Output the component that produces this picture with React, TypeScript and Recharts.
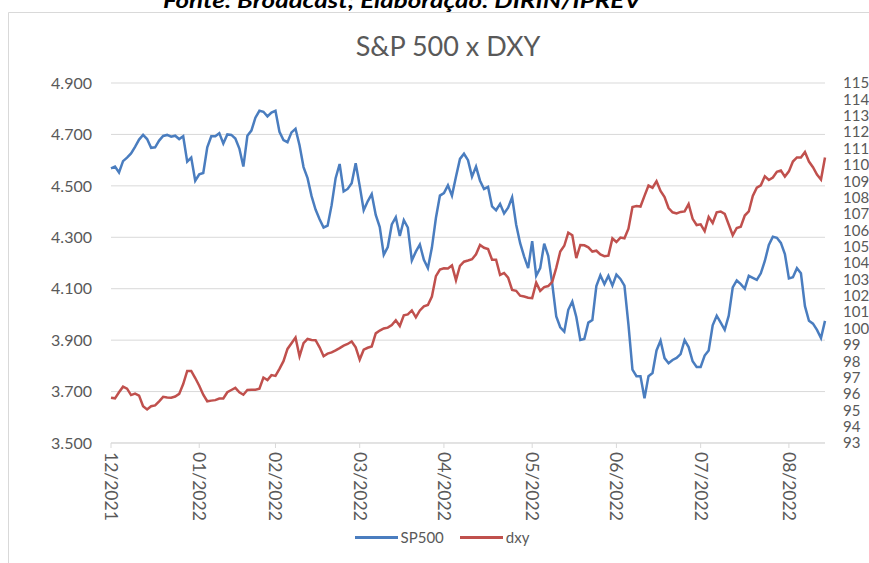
import React from 'react'
import { LineChart, Line, XAxis, YAxis, CartesianGrid, Legend } from 'recharts'

// month labels on the x axis and the trading-day index where each month starts
const monthLabels = ['12/2021', '01/2022', '02/2022', '03/2022', '04/2022', '05/2022', '06/2022', '07/2022', '08/2022']
const monthStarts = [0, 22, 41, 62, 83, 105, 126, 147, 169]

const leftTicks = [3500, 3700, 3900, 4100, 4300, 4500, 4700, 4900]
const rightTicks = [93, 94, 95, 96, 97, 98, 99, 100, 101, 102, 103, 104, 105, 106, 107, 108, 109, 110, 111, 112, 113, 114, 115]

// S&P 500 daily closes
const sp500 = [
  4568, 4575, 4552, 4596, 4610, 4626, 4652, 4680, 4698, 4682,
  4648, 4650, 4676, 4694, 4698, 4691, 4695, 4682, 4693, 4594,
  4610, 4520, 4545, 4550, 4650, 4693, 4693, 4705, 4665, 4700,
  4698, 4684, 4645, 4575, 4695, 4715, 4765, 4792, 4788, 4770,
  4785, 4792, 4710, 4678, 4670, 4708, 4722, 4658, 4573, 4530,
  4460, 4408, 4370, 4338, 4345, 4425, 4530, 4585, 4478, 4488,
  4510, 4588, 4500, 4405, 4440, 4468, 4387, 4340, 4232, 4262,
  4350, 4378, 4305, 4367, 4338, 4210, 4244, 4272, 4212, 4180,
  4260, 4375, 4462, 4472, 4502, 4462, 4535, 4605, 4625, 4600,
  4536, 4575, 4520, 4488, 4496, 4420, 4405, 4430, 4393, 4415,
  4455, 4350, 4277, 4225, 4180, 4285, 4150, 4180, 4275, 4228,
  4120, 3992, 3950, 3933, 4018, 4050, 3990, 3901, 3905, 3968,
  3978, 4110, 4152, 4118, 4150, 4112, 4155, 4138, 4112, 3960,
  3785, 3760, 3760, 3674, 3760, 3772, 3860, 3898, 3830, 3810,
  3823, 3831, 3846, 3900, 3873, 3818, 3796, 3796, 3840, 3860,
  3958, 3995, 3968, 3940, 3995, 4105, 4132, 4118, 4100, 4150,
  4142, 4134, 4160, 4208, 4270, 4302, 4298, 4278, 4235, 4140,
  4145, 4180, 4160, 4032, 3975, 3964, 3940, 3908, 3975,
]

// DXY index (right axis)
const dxy = [
  95.77, 95.73, 96.1, 96.44, 96.32, 95.93, 96.02, 95.9, 95.25, 95.05,
  95.25, 95.3, 95.55, 95.82, 95.78, 95.77, 95.84, 96.0, 96.6, 97.4,
  97.4, 96.97, 96.5, 95.95, 95.55, 95.59, 95.62, 95.72, 95.72, 96.1,
  96.24, 96.37, 96.1, 95.95, 96.24, 96.26, 96.26, 96.32, 97.0, 96.85,
  97.15, 97.1, 97.53, 98.0, 98.75, 99.1, 99.45, 98.3, 99.1, 99.36,
  99.29, 99.28, 98.85, 98.3, 98.46, 98.54, 98.66, 98.8, 98.95, 99.05,
  99.2, 98.85, 98.1, 98.7, 98.82, 98.9, 99.7, 99.87, 100.0, 100.05,
  100.21, 100.5, 100.15, 100.8, 100.86, 101.1, 100.68, 101.1, 101.35, 101.43,
  101.95, 103.2, 103.6, 103.68, 103.67, 103.85, 102.95, 103.83, 104.08, 104.15,
  104.23, 104.53, 105.1, 104.93, 104.85, 104.2, 104.2, 103.27, 103.39, 103.1,
  102.35, 102.3, 102.0, 101.95, 101.88, 101.85, 102.8, 102.3, 102.53, 102.59,
  102.85, 103.7, 104.7, 105.05, 105.85, 105.7, 104.3, 105.1, 105.08, 104.96,
  104.7, 104.75, 104.52, 104.42, 104.45, 105.5, 105.28, 105.55, 105.51, 106.1,
  107.42, 107.48, 107.45, 108.1, 108.73, 108.6, 109.0, 108.4, 108.03, 107.36,
  107.1, 107.03, 107.12, 107.15, 107.6, 106.7, 106.32, 106.36, 105.95, 106.82,
  106.45, 107.1, 107.15, 107.0, 106.35, 105.7, 106.14, 106.22, 106.9, 107.15,
  108.1, 108.6, 108.75, 109.3, 109.07, 109.22, 109.57, 109.65, 109.28, 109.6,
  110.2, 110.45, 110.45, 110.78, 110.2, 109.85, 109.4, 109.1, 110.45,
]

const data = sp500.map((v, i) => ({ i, SP500: v, dxy: dxy[i] }))

const FONT = 'Lato, "Open Sans", sans-serif'
const GRAY = '#595959'
const BLUE = '#4a7dbf'
const RED = '#c0504d'

const fmtThousands = (v: number) => {
  const s = String(v)
  return s.length > 3 ? s.slice(0, -3) + '.' + s.slice(-3) : s
}

function MonthTick(props: any) {
  const { x, y, payload } = props
  const idx = monthStarts.indexOf(payload.value)
  return (
    <text
      x={x}
      y={y}
      dy="0.35em"
      transform={`rotate(90, ${x}, ${y})`}
      textAnchor="start"
      fill={GRAY}
      fontSize={17.5}
      fontFamily={FONT}
    >
      {idx >= 0 ? monthLabels[idx] : ''}
    </text>
  )
}

function LegendContent() {
  const items = [
    { name: 'SP500', color: BLUE },
    { name: 'dxy', color: RED },
  ]
  return (
    <div style={{ display: 'flex', justifyContent: 'center', alignItems: 'center', height: 20, marginLeft: 31, fontFamily: FONT, fontSize: 15, color: GRAY }}>
      {items.map((it) => (
        <div key={it.name} style={{ display: 'flex', alignItems: 'center', marginRight: 16 }}>
          <span style={{ display: 'inline-block', width: 43, height: 3, background: it.color, marginRight: 3 }} />
          <span>{it.name}</span>
        </div>
      ))}
    </div>
  )
}

export default function App() {
  return (
    <div style={{ position: 'absolute', left: 0, top: 0, width: 869, height: 563, background: '#fff', overflow: 'hidden' }}>
      <svg width={869} height={563} style={{ position: 'absolute', left: 0, top: 0 }}>
        {/* source line, cut at the top as in the original screenshot */}
        <text x={402} y={8} textAnchor="middle" fontFamily={FONT} fontWeight={700} fontStyle="italic" fontSize={20} fill="#000" textLength={478} lengthAdjust="spacingAndGlyphs">
          Fonte: Broadcast; Elaboração: DIRIN/IPREV
        </text>
        <line x1={8.5} y1={12.5} x2={869} y2={12.5} stroke="#d9d9d9" strokeWidth={1} />
        <line x1={8.5} y1={12.5} x2={8.5} y2={563} stroke="#d9d9d9" strokeWidth={1} />
        <text x={448} y={56} textAnchor="middle" fontFamily={FONT} fontSize={27} fill={GRAY}>
          S&amp;P 500 x DXY
        </text>
      </svg>
      <div style={{ position: 'absolute', left: 0, top: 0 }}>
        <LineChart width={869} height={563} data={data} margin={{ top: 83, right: 0, bottom: 16, left: 0 }}>
          <CartesianGrid yAxisId="left" vertical={false} stroke="#d9d9d9" strokeWidth={1} />
          <XAxis
            dataKey="i"
            type="number"
            domain={[0, 178]}
            ticks={monthStarts}
            interval={0}
            height={84}
            stroke="#d9d9d9"
            tickSize={5}
            tickMargin={4}
            tick={<MonthTick />}
          />
          <YAxis
            yAxisId="left"
            domain={[3500, 4900]}
            ticks={leftTicks}
            width={111}
            axisLine={false}
            tickLine={false}
            tickSize={0}
            tickMargin={19}
            tickFormatter={fmtThousands}
            tick={{ fill: GRAY, fontSize: 16, fontFamily: FONT }}
          />
          <YAxis
            yAxisId="right"
            orientation="right"
            domain={[93, 115]}
            ticks={rightTicks}
            interval={0}
            width={44}
            axisLine={false}
            tickLine={false}
            tickSize={0}
            tickMargin={18}
            tick={{ fill: GRAY, fontSize: 15, fontFamily: FONT }}
          />
          <Legend verticalAlign="bottom" height={20} content={<LegendContent />} />
          <Line yAxisId="left" type="linear" dataKey="SP500" stroke={BLUE} strokeWidth={2.5} dot={false} isAnimationActive={false} />
          <Line yAxisId="right" type="linear" dataKey="dxy" stroke={RED} strokeWidth={2.5} dot={false} isAnimationActive={false} />
        </LineChart>
      </div>
    </div>
  )
}
